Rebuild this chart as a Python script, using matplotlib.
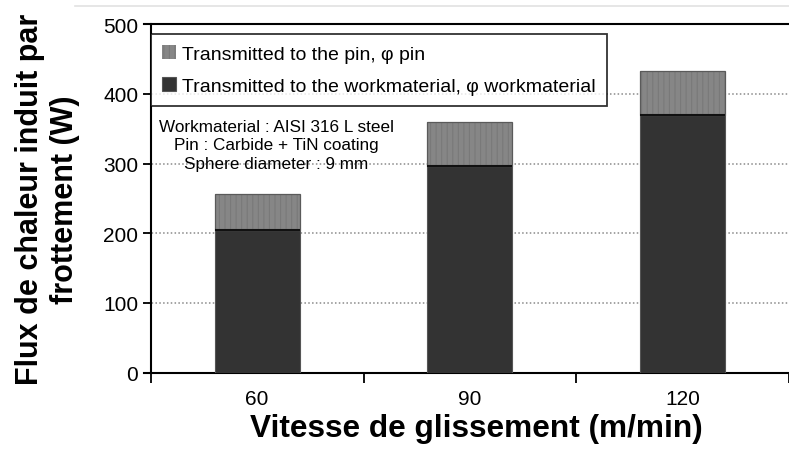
import numpy as np
import matplotlib.pyplot as plt
from matplotlib.lines import Line2D

plt.rcParams['font.family'] = ['Liberation Sans', 'DejaVu Sans']
plt.rcParams['hatch.linewidth'] = 0.8

# values
speeds = ['60', '90', '120']
workmaterial = [205, 297, 369]
pin = [52, 62, 64]

fig = plt.figure(figsize=(7.89, 4.56), dpi=100)
ax = fig.add_axes([0.1825, 0.1805, 0.8175, 0.7645])

x = np.arange(len(speeds))
w = 0.40
b1 = ax.bar(x, workmaterial, w, color='#333333', edgecolor='#555555', linewidth=0.8, zorder=3,
            label='Transmitted to the workmaterial, φ workmaterial')
# striped grey top part: hatch in a near-face colour, outline drawn on top
ax.bar(x, pin, w, bottom=workmaterial, color='#868686', edgecolor='#797979', linewidth=0,
       hatch='|||', zorder=3)
b2 = ax.bar(x, pin, w, bottom=workmaterial, fill=False, edgecolor='#5a5a5a', linewidth=0.9,
            zorder=3, label='Transmitted to the pin, φ pin')
ax.hlines(workmaterial, x - w / 2, x + w / 2, color='#111111', linewidth=1.5, zorder=4)

ax.set_ylim(0, 500)
ax.set_xlim(-0.532, 2.459)
ax.set_yticks([0, 100, 200, 300, 400, 500])
ax.yaxis.grid(True, color='#8a8a8a', linestyle=(0, (1, 1.5)), linewidth=1.1, zorder=0)
ax.spines['left'].set_position(('data', -0.5))
ax.spines['right'].set_visible(False)
for s in ['left', 'bottom', 'top']:
    ax.spines[s].set_linewidth(1.5)
ax.tick_params(axis='y', length=6, width=1.3, pad=3, labelsize=15)
ax.set_xticks([-0.5, 0.5, 1.5, 2.5])
ax.set_xticklabels([])
ax.set_xticks(x, minor=True)
ax.set_xticklabels(speeds, minor=True)
ax.tick_params(axis='x', which='major', length=7, width=1.3)
ax.tick_params(axis='x', which='minor', length=0, pad=12, labelsize=15)

ax.set_xlabel('Vitesse de glissement (m/min)', fontsize=22.8, fontweight='bold', labelpad=4)
ax.xaxis.set_label_coords(0.515, -0.117)
ax.set_ylabel('Flux de chaleur induit par\nfrottement (W)', fontsize=22, fontweight='bold', labelpad=17)

pin_handle = plt.Rectangle((0, 0), 1, 1, facecolor='#868686', edgecolor='#797979', hatch='|||', linewidth=0)
leg = ax.legend(handles=[pin_handle, b1], labels=[b2.get_label(), b1.get_label()],
                loc='upper left', bbox_to_anchor=(0.011, 0.972),
                borderaxespad=0, fontsize=14, fancybox=False, frameon=True,
                handlelength=0.7, handleheight=0.7, handletextpad=0.3, labelspacing=0.74,
                borderpad=0.58)
leg.get_frame().set_edgecolor('black')
leg.get_frame().set_linewidth(1.3)
leg.set_zorder(5)

ax.text(0.09, 327, 'Workmaterial : AISI 316 L steel\nPin : Carbide + TiN coating\nSphere diameter : 9 mm',
        ha='center', va='center', fontsize=12.3, linespacing=1.3, zorder=5)

fig.add_artist(Line2D([0.095, 1.0], [0.984, 0.984], color='#e2e2e2', linewidth=1.2))

fig.savefig('out.png', dpi=100)
